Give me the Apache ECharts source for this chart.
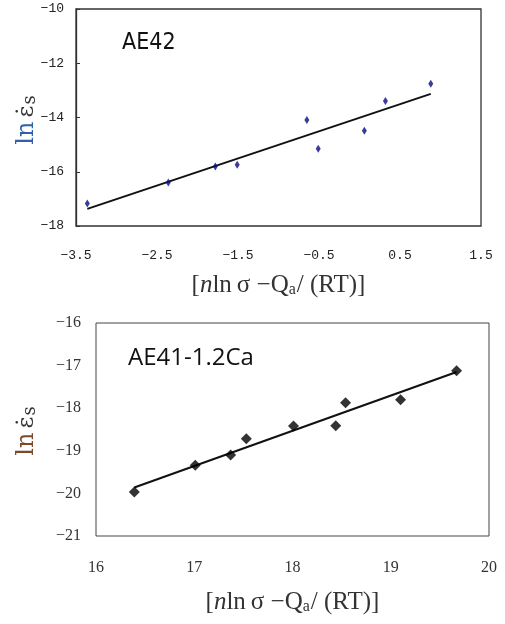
<!DOCTYPE html>
<html>
<head>
<meta charset="utf-8">
<script src="https://cdn.jsdelivr.net/npm/echarts@6/dist/echarts.min.js"></script>
<style>
  html, body { margin: 0; padding: 0; background: #fff; }
  #chart { width: 505px; height: 624px; }
</style>
</head>
<body>
<div id="chart"></div>
<script>
// AE42 creep data: x = [n ln σ − Qa/(RT)], y = ln(strain rate)
const ae42X = [-3.36, -2.36, -1.78, -1.51, -0.65, -0.51, 0.06, 0.32, 0.88];
const ae42Y = [-17.17, -16.40, -15.81, -15.74, -14.09, -15.15, -14.49, -13.39, -12.76];
const ae42FitX = [-3.36, 0.88];
const ae42FitY = [-17.37, -13.13];

// AE41-1.2Ca creep data
const ae41X = [16.39, 17.01, 17.37, 17.53, 18.01, 18.44, 18.54, 19.10, 19.67];
const ae41Y = [-19.97, -19.34, -19.10, -18.72, -18.42, -18.41, -17.87, -17.80, -17.12];
const ae41FitX = [16.39, 19.67];
const ae41FitY = [-19.86, -17.15];

const panelTitles = ['AE42', 'AE41-1.2Ca'];

const pairs = (xs, ys) => xs.map((x, i) => [x, ys[i]]);
const minus = (v, d) => {
  const s = Math.abs(v).toFixed(d);
  return v < 0 ? '\u2212' + s : s;
};

const xName = '{b|[}{i|n}{b|ln\u2009σ \u2212Q}{sub|a}{b|/ (RT)]}';
const xNameRich = {
  b: { fontFamily: 'Liberation Serif', fontSize: 25, color: '#333' },
  i: { fontFamily: 'Liberation Serif', fontStyle: 'italic', fontSize: 25, color: '#333' },
  sub: { fontFamily: 'Liberation Serif', fontSize: 16, color: '#333', verticalAlign: 'bottom', padding: [10, 1, 0, 0] }
};

// rotated y-axis title: ln ε̇s
function yTitle(cx, cy, lnColor) {
  return {
    type: 'text', x: cx, y: cy, rotation: Math.PI / 2,
    style: {
      x: 0, y: 0, align: 'center', verticalAlign: 'middle',
      text: '{ln|ln}{e|ε\u0307}{s|s}',
      rich: {
        ln: { fontFamily: 'DejaVu Serif', fontSize: 24, fill: lnColor, padding: [0, 4, 0, 0] },
        e: { fontFamily: 'DejaVu Serif', fontSize: 23, fill: '#333' },
        s: { fontFamily: 'DejaVu Serif', fontSize: 18, fill: '#333', padding: [6, 0, 0, 1] }
      }
    }
  };
}

const chart = echarts.init(document.getElementById('chart'), null, { renderer: 'canvas' });

chart.setOption({
  animation: false,
  backgroundColor: '#fff',
  grid: [
    { left: 76, top: 9, width: 405, height: 217, show: true, borderColor: '#333', borderWidth: 1.3, backgroundColor: 'transparent' },
    { left: 96, top: 323, width: 393, height: 213, show: true, borderColor: '#444', borderWidth: 1, backgroundColor: 'transparent' }
  ],
  xAxis: [
    {
      gridIndex: 0, type: 'value', min: -3.5, max: 1.5, interval: 1,
      axisLine: { show: false, onZero: false }, axisTick: { show: false }, splitLine: { show: false },
      axisLabel: { margin: 23, fontFamily: 'Liberation Mono', fontSize: 13, color: '#222', formatter: v => minus(v, 1) },
      name: xName, nameLocation: 'middle', nameGap: 46,
      nameTextStyle: { rich: xNameRich }
    },
    {
      gridIndex: 1, type: 'value', min: 16, max: 20, interval: 1,
      axisLine: { show: false, onZero: false }, axisTick: { show: false }, splitLine: { show: false },
      axisLabel: { margin: 24, fontFamily: 'Liberation Serif', fontSize: 16, color: '#333' },
      name: xName, nameLocation: 'middle', nameGap: 53,
      nameTextStyle: { rich: xNameRich }
    }
  ],
  yAxis: [
    {
      gridIndex: 0, type: 'value', min: -18, max: -10, interval: 2,
      axisLine: { show: true, onZero: false, lineStyle: { color: '#333', width: 1.3 } },
      axisTick: { show: true, inside: true, length: 4, lineStyle: { color: '#333', width: 1 } },
      splitLine: { show: false },
      axisLabel: { margin: 12, fontFamily: 'Liberation Mono', fontSize: 13, color: '#222', formatter: v => minus(v, 0) }
    },
    {
      gridIndex: 1, type: 'value', min: -21, max: -16, interval: 1,
      axisLine: { show: false, onZero: false }, axisTick: { show: false }, splitLine: { show: false },
      axisLabel: { margin: 15, fontFamily: 'Liberation Serif', fontSize: 16, color: '#333', formatter: v => minus(v, 0) }
    }
  ],
  series: [
    {
      type: 'line', xAxisIndex: 0, yAxisIndex: 0, data: pairs(ae42FitX, ae42FitY),
      showSymbol: false, lineStyle: { color: '#111', width: 2 }, z: 2
    },
    {
      type: 'scatter', xAxisIndex: 0, yAxisIndex: 0, data: pairs(ae42X, ae42Y),
      symbol: 'diamond', symbolSize: [5, 8], itemStyle: { color: '#0a0a80' }, z: 3
    },
    {
      type: 'line', xAxisIndex: 1, yAxisIndex: 1, data: pairs(ae41FitX, ae41FitY),
      showSymbol: false, lineStyle: { color: '#111', width: 2 }, z: 2
    },
    {
      type: 'scatter', xAxisIndex: 1, yAxisIndex: 1, data: pairs(ae41X, ae41Y),
      symbol: 'diamond', symbolSize: 11, itemStyle: { color: '#000' }, z: 3
    }
  ],
  graphic: [
    {
      type: 'text', left: 122, top: 32,
      style: { text: panelTitles[0], font: '23px "DejaVu Sans Condensed", "Liberation Sans", sans-serif', fill: '#111' }
    },
    {
      type: 'text', left: 128, top: 346,
      style: { text: panelTitles[1], font: '24px "Open Sans", sans-serif', fill: '#111' }
    },
    yTitle(27, 120, '#2f62a8'),
    yTitle(27, 431, '#7b4a2c')
  ]
});
</script>
</body>
</html>
